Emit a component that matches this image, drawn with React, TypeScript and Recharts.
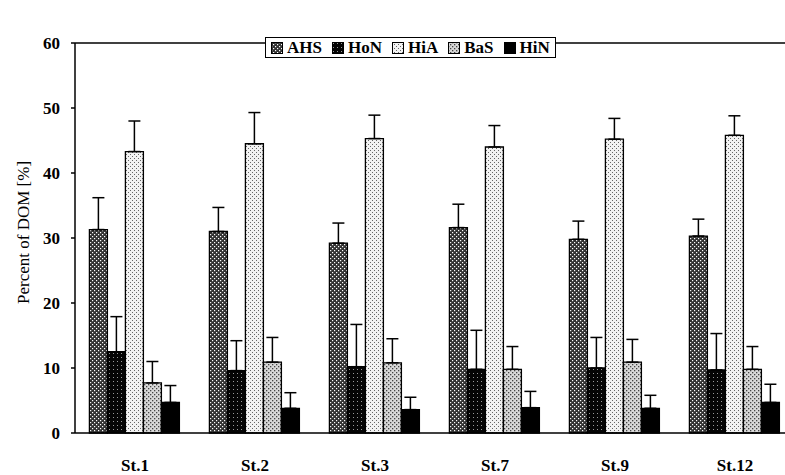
import { Bar, BarChart, ErrorBar, Legend, ReferenceLine, XAxis, YAxis } from "recharts";

const stations = ["St.1", "St.2", "St.3", "St.7", "St.9", "St.12"];
const ahs = [31.3, 31.0, 29.2, 31.6, 29.8, 30.3];
const ahsErr = [4.9, 3.7, 3.1, 3.6, 2.8, 2.6];
const hon = [12.5, 9.6, 10.2, 9.8, 10.0, 9.7];
const honErr = [5.4, 4.6, 6.5, 6.0, 4.7, 5.6];
const hia = [43.3, 44.5, 45.3, 44.0, 45.2, 45.8];
const hiaErr = [4.7, 4.8, 3.6, 3.3, 3.2, 3.0];
const bas = [7.7, 10.9, 10.8, 9.8, 10.9, 9.8];
const basErr = [3.3, 3.8, 3.7, 3.5, 3.5, 3.5];
const hin = [4.7, 3.8, 3.6, 3.9, 3.8, 4.7];
const hinErr = [2.6, 2.4, 1.9, 2.5, 2.0, 2.8];
const yTicks = [0, 10, 20, 30, 40, 50, 60];

const series = [
  { key: "AHS", fill: "url(#pAHS)" },
  { key: "HoN", fill: "url(#pHoN)" },
  { key: "HiA", fill: "url(#pHiA)" },
  { key: "BaS", fill: "url(#pBaS)" },
  { key: "HiN", fill: "#000" },
];

const data = stations.map((s, i) => ({
  name: s,
  AHS: ahs[i],
  AHSe: [0, ahsErr[i]],
  HoN: hon[i],
  HoNe: [0, honErr[i]],
  HiA: hia[i],
  HiAe: [0, hiaErr[i]],
  BaS: bas[i],
  BaSe: [0, basErr[i]],
  HiN: hin[i],
  HiNe: [0, hinErr[i]],
}));

const font = "'Liberation Serif', 'Times New Roman', serif";

function Patterns() {
  return (
    <defs>
      <pattern id="pAHS" width="4" height="4" patternUnits="userSpaceOnUse">
        <rect width="4" height="4" fill="#333" />
        <rect x="0" y="0" width="1.2" height="1.2" fill="#fff" />
        <rect x="2" y="2" width="1.2" height="1.2" fill="#fff" />
      </pattern>
      <pattern id="pHoN" width="4" height="4" patternUnits="userSpaceOnUse">
        <rect width="4" height="4" fill="#050505" />
        <rect x="1" y="1" width="1" height="1" fill="#999" />
      </pattern>
      <pattern id="pHiA" width="4" height="4" patternUnits="userSpaceOnUse">
        <rect width="4" height="4" fill="#f2f2f2" />
        <rect x="0" y="0" width="1" height="1" fill="#666" />
        <rect x="2" y="2" width="1" height="1" fill="#666" />
      </pattern>
      <pattern id="pBaS" width="4" height="4" patternUnits="userSpaceOnUse">
        <rect width="4" height="4" fill="#d8d8d8" />
        <rect x="0" y="0" width="1.3" height="1.3" fill="#444" />
        <rect x="2" y="2" width="1.3" height="1.3" fill="#444" />
      </pattern>
    </defs>
  );
}

function LegendBox() {
  return (
    <div
      style={{
        display: "flex",
        alignItems: "center",
        border: "1.5px solid #000",
        background: "#fff",
        padding: "0px 3px 0px 5px",
        height: 19,
        fontFamily: font,
        fontWeight: "bold",
        fontSize: 17,
        lineHeight: "19px",
      }}
    >
      {series.map((s, i) => (
        <span key={s.key} style={{ display: "flex", alignItems: "center", marginRight: i < series.length - 1 ? 10 : 2 }}>
          <svg width="12" height="12" style={{ marginRight: 4 }}>
            <rect x="0.5" y="0.5" width="11" height="11" fill={s.fill} stroke="#000" />
          </svg>
          {s.key}
        </span>
      ))}
    </div>
  );
}

export default function App() {
  return (
    <div style={{ position: "absolute", left: 0, top: 0, width: 785, height: 475, overflow: "hidden", background: "#fff" }}>
      <BarChart
        width={795}
        height={475}
        data={data}
        margin={{ top: 22, right: 0, bottom: 0, left: 0 }}
        barCategoryGap="12%"
        barGap={0}
      >
        <Patterns />
        <XAxis
          dataKey="name"
          stroke="#000"
          strokeWidth={1.5}
          height={42}
          tickLine={false}
          tickSize={0}
          tickMargin={26}
          tick={{ fill: "#000", fontFamily: font, fontSize: 17, fontWeight: "bold" }}
        />
        <YAxis
          domain={[0, 60]}
          ticks={yTicks}
          width={75}
          stroke="#000"
          strokeWidth={1.5}
          tickSize={4}
          tickMargin={11}
          tick={{ fill: "#000", fontFamily: font, fontSize: 17, fontWeight: "bold" }}
          label={{
            value: "Percent of DOM [%]",
            angle: -90,
            position: "insideLeft",
            dx: 18,
            dy: 66,
            style: { fill: "#000", fontFamily: font, fontSize: 17 },
          }}
        />
        <ReferenceLine y={60} stroke="#000" strokeWidth={1.5} />
        <Legend
          verticalAlign="top"
          align="left"
          wrapperStyle={{ top: 37, left: 265, width: "auto" }}
          content={() => <LegendBox />}
        />
        {series.map((s) => (
          <Bar key={s.key} dataKey={s.key} fill={s.fill} stroke="#000" strokeWidth={1.3} isAnimationActive={false}>
            <ErrorBar dataKey={s.key + "e"} width={6} stroke="#000" strokeWidth={1.5} direction="y" />
          </Bar>
        ))}
      </BarChart>
    </div>
  );
}
